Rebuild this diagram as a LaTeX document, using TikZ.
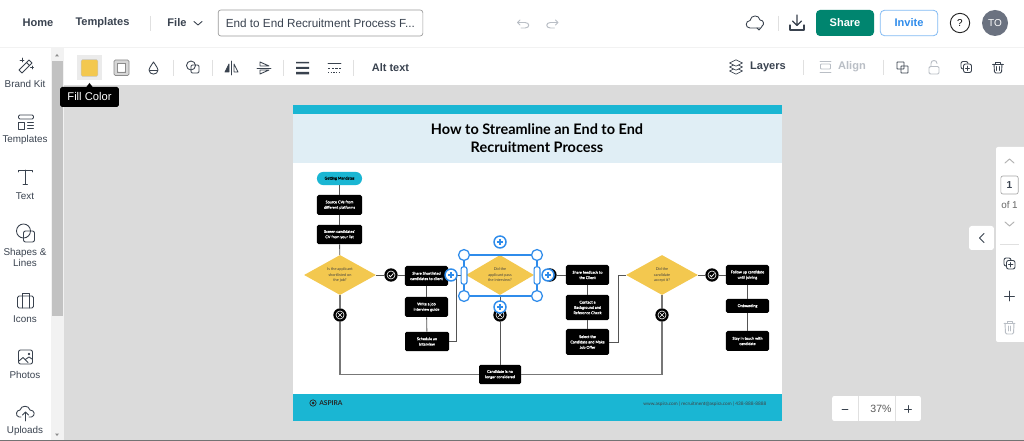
\documentclass[tikz,border=0pt]{standalone}
\usepackage{fontspec}
\setmainfont{Liberation Sans}
\newfontfamily\flowfont{Lato}
\newfontfamily\flowsemi[FakeBold=0.35]{Lato}
\usetikzlibrary{calc,arrows.meta,shapes.geometric}
\definecolor{cyanbar}{HTML}{1AB6D3}
\definecolor{headbg}{HTML}{E0EEF5}
\definecolor{canvasbg}{HTML}{DBDBDB}
\definecolor{sharegreen}{HTML}{00856F}
\definecolor{selblue}{HTML}{2F8CEB}
\definecolor{ambery}{HTML}{F3C84F}
\definecolor{uitext}{HTML}{3A4350}
\definecolor{uiicon}{HTML}{39424E}
\definecolor{uifaint}{HTML}{B9BEC5}
\definecolor{flowline}{HTML}{555555}
\definecolor{flowthick}{HTML}{777777}
\definecolor{avatargrey}{HTML}{6B7280}
\tikzset{
  x=0.75pt,y=-0.75pt,
  blackbox/.style={draw=none,fill=black,rounded corners=1.2pt,text=white,align=center,inner sep=0pt,font=\flowsemi\fontsize{2.85}{4}\selectfont},
  pill/.style={fill=cyanbar,rounded corners=4.8pt,text=black,align=center,inner sep=0pt,font=\flowsemi\fontsize{2.85}{4}\selectfont},
  ydiamond/.style={diamond,aspect=1.8,fill=ambery,inner sep=0pt,text=black!75,align=center,font=\flowfont\fontsize{2.85}{4.1}\selectfont},
  bluecirc/.style={circle,draw=selblue,line width=1.1pt,fill=white,inner sep=0pt,minimum size=9pt},
  bluehandle/.style={circle,draw=selblue,line width=0.95pt,fill=white,inner sep=0pt,minimum size=8.2pt},
  sidepill/.style={rounded corners=1.6pt,draw=selblue,line width=0.85pt,fill=white,inner sep=0pt,minimum width=4.4pt,minimum height=13pt},
  blackcirc/.style={circle,fill=black,inner sep=0pt,minimum size=10pt},
  flowl/.style={draw=flowline,line width=0.65pt},
  flowk/.style={draw=flowthick,line width=0.85pt},
  uilabel/.style={inner sep=0pt,text=uitext,font=\fontsize{7.3}{9}\selectfont},
  sidelabel/.style={inner sep=0pt,text=uitext,align=center,font=\fontsize{7.4}{8.4}\selectfont},
  boldlabel/.style={inner sep=0pt,text=uitext,font=\bfseries\fontsize{8.3}{10}\selectfont},
  ico/.style={draw=uiicon,line width=0.65pt,fill=none,line cap=round,line join=round},
  icofaint/.style={draw=uifaint,line width=0.7pt,fill=none,line cap=round,line join=round},
  divl/.style={draw=black!12,line width=0.5pt},
}
\begin{document}
\begin{tikzpicture}
\useasboundingbox (0,0) rectangle (1024,441);
% backgrounds
\fill[canvasbg] (0,0) rectangle (1024,441);
\fill[white] (0,0) rectangle (1024,47);
\fill[black!5] (0,47) rectangle (1024,48.5);
\fill[white] (64,48) rectangle (1024,85);
\fill[black!14] (64,85) rectangle (1024,86);
\fill[white] (0,48) rectangle (51,441);
\fill[black!5] (51,48) rectangle (64,441);
\fill[black!24] (52,61) rectangle (63,316);
\fill[black!45] (55,56.5) -- (59,56.5) -- (57,54) -- cycle;
\fill[black!45] (55,433.5) -- (59,433.5) -- (57,436) -- cycle;
\fill[black!55] (0,439.5) rectangle (1024,441);
% top bar text
\node[boldlabel] (home) at (38,23) {Home};
\node[boldlabel] (tmpl) at (102.5,23) {Templates};
\draw[divl] (150,16) -- (150,31);
\node[boldlabel] (file) at (177,23) {File};
\draw[ico] (194,21.5) -- (198,25) -- (202,21.5);
\node[draw=black!40,line width=0.5pt,rounded corners=2pt,minimum width=153.5pt,minimum height=19.5pt,inner sep=0pt,fill=white] (titlebox) at (320.5,23) {};
\node[uilabel,anchor=west,font=\fontsize{8.8}{9}\selectfont] (titletext) at (225.5,23.5) {End to End Recruitment Process F...};
% undo redo
\draw[icofaint] (520,20) -- (517.5,22.5) -- (520,25) (517.5,22.5) -- (525,22.5) .. controls (530,22.5) and (530,28) .. (525,28) -- (521,28);
\draw[icofaint] (555.5,20) -- (558,22.5) -- (555.5,25) (558,22.5) -- (550.5,22.5) .. controls (545.5,22.5) and (545.5,28) .. (550.5,28) -- (554.5,28);
% cloud
\draw[ico] (760,28) -- (750,28) .. controls (745,28) and (745,21) .. (750,20.5) .. controls (751,14.5) and (759,14.5) .. (760,20) .. controls (764,20) and (764.5,25) .. (762,26);
\draw[ico] (757,28) -- (759,30) -- (762,26.5);
\draw[divl] (778,16) -- (778,31);
% download
\draw[ico,line width=0.85pt] (797,15) -- (797,25) (792.5,21) -- (797,25.5) -- (801.5,21);
\draw[ico,line width=0.85pt] (790,25) -- (790,30) -- (804,30) -- (804,25);
% buttons
\node[fill=sharegreen,rounded corners=3pt,minimum width=43.5pt,minimum height=19.5pt,inner sep=0pt,text=white,font=\bfseries\fontsize{8.3}{10}\selectfont] (share) at (845,23) {Share};
\node[fill=white,draw=selblue!60,line width=0.6pt,rounded corners=3pt,minimum width=43pt,minimum height=19pt,inner sep=0pt,text=selblue,font=\bfseries\fontsize{8.3}{10}\selectfont] (invite) at (909,23) {Invite};
\node[circle,draw=black!85,line width=0.7pt,minimum size=14.5pt,inner sep=0pt,font=\fontsize{7.5}{9}\selectfont] (help) at (960,23) {?};
\node[circle,fill=avatargrey,minimum size=19.5pt,inner sep=0pt,text=white,font=\fontsize{7.5}{9}\selectfont] (avatar) at (995,23) {TO};
% toolbar icons
\node[fill=black!8,minimum size=19pt,inner sep=0pt] (fillbtn) at (89.5,67.5) {};
\node[fill=ambery,draw=black!22,line width=0.3pt,rounded corners=1pt,minimum size=12.5pt,inner sep=0pt] (fillswatch) at (89.5,68) {};
\fill[black!16,even odd rule,rounded corners=1pt] (114,60) rectangle (129,75.5) (117.5,63.5) rectangle (125.5,72);
\draw[draw=black!45,line width=0.55pt,rounded corners=1pt] (114,60) rectangle (129,75.5);
\draw[draw=black!45,line width=0.5pt] (117.5,63.5) rectangle (125.5,72);
\draw[ico] (153.5,62) .. controls (150,67) and (149,69) .. (149,70) .. controls (149,75.5) and (158,75.5) .. (158,70) .. controls (158,69) and (157,67) .. (153.5,62);
\draw[ico] (149.5,70) -- (157.5,70);
\draw[divl] (173,60) -- (173,76);
\draw[ico] (191,65.5) circle[radius=4.5];
\draw[ico,rounded corners=1pt] (191,65) rectangle (199,73);
\draw[divl] (212,60) -- (212,76);
\draw[ico] (231.5,61) -- (231.5,75);
\draw[ico,fill=uiicon] (229,64) -- (229,72) -- (225,72) -- cycle;
\draw[ico] (234,64) -- (234,72) -- (238,72) -- cycle;
\draw[ico] (257,68) -- (271,68);
\draw[ico] (260,66) -- (269,66) -- (260,62) -- cycle;
\draw[ico] (260,70) -- (269,70) -- (260,74) -- cycle;
\draw[divl] (283,60) -- (283,76);
\fill[uiicon] (296,62) rectangle (309,63.4) (296,66.8) rectangle (309,68.8) (296,72) rectangle (309,74.5);
\draw[ico,line width=0.4pt] (328,63) -- (341,63);
\draw[ico,line width=0.6pt,line cap=butt,dash pattern=on 1.8pt off 1pt] (328,68) -- (341,68);
\draw[ico,line width=0.6pt,line cap=butt,dash pattern=on 1pt off 1pt] (328,72.5) -- (341,72.5);
\draw[divl] (353.5,60) -- (353.5,76);
\node[boldlabel,font=\bfseries\fontsize{8.2}{10}\selectfont] (alt) at (390.5,68) {Alt text};
% right toolbar
\foreach \yy in {71,67,63}{\draw[draw=uiicon,line width=0.5pt,fill=white,line join=round] (729.5,\yy) -- (736,\yy-3.2) -- (742.5,\yy) -- (736,\yy+3.2) -- cycle;}
\node[boldlabel] (layers) at (768,67) {Layers};
\draw[divl] (803,60) -- (803,75);
\draw[icofaint] (820,61) -- (831,61) (820,72.5) -- (831,72.5);
\draw[icofaint,rounded corners=0.6pt] (820.5,64) rectangle (830.5,69);
\node[boldlabel,text=uifaint] (align) at (852,67) {Align};
\draw[divl] (883,60) -- (883,75);
\draw[ico,rounded corners=0.3pt] (897,62) rectangle (904,69);
\draw[ico,rounded corners=0.3pt] (901,66) rectangle (908,73);
\draw[icofaint,rounded corners=1pt] (929,66.5) rectangle (939,74);
\draw[icofaint] (931,66.5) -- (931,63.5) .. controls (931,59.5) and (937,59.5) .. (937,63.5);
\draw[ico,rounded corners=1.5pt] (961,61.5) rectangle (968,69);
\draw[ico,fill=white,rounded corners=1.5pt] (963.5,64) rectangle (971.5,72.5);
\draw[ico,line width=0.5pt] (967.5,66) -- (967.5,70.5) (965.5,68.3) -- (969.5,68.3);
\draw[ico] (992.5,64) -- (1003.5,64) (995.5,64) -- (995.5,62) -- (1000.5,62) -- (1000.5,64);
\draw[ico,rounded corners=1pt] (994,64) -- (994.5,73) -- (1001.5,73) -- (1002,64);
\draw[ico,line width=0.5pt] (996.8,66.5) -- (996.8,70.5) (999.2,66.5) -- (999.2,70.5);
% tooltip
\fill[black] (86,87.5) -- (89.5,83) -- (93,87.5) -- cycle;
\node[fill=black,rounded corners=1.2pt,text=white,minimum width=44pt,minimum height=15pt,inner sep=0pt,font=\fontsize{8.4}{9}\selectfont] (tooltip) at (89.5,97) {Fill Color};
% sidebar labels
\node[sidelabel] (s1) at (25,84) {Brand Kit};
\node[sidelabel] (s2) at (25,140) {Templates};
\node[sidelabel] (s3) at (25,196) {Text};
\node[sidelabel] (s4) at (25,257.5) {Shapes \&\\Lines};
\node[sidelabel] (s5) at (25,319) {Icons};
\node[sidelabel] (s6) at (25,375) {Photos};
\node[sidelabel] (s7) at (25,431) {Uploads};
% sidebar icons
\draw[ico] (19,70) -- (29,60) -- (32,63) -- (22,73) -- cycle (26.5,62.5) -- (29.5,65.5);
\draw[ico,line width=0.5pt] (22,58) -- (22,62) (20,60) -- (24,60) (32,66) -- (32,69) (30.5,67.5) -- (33.5,67.5);
\draw[ico,rounded corners=1pt] (18.5,115) rectangle (33.5,119);
\draw[ico] (18.5,122) rectangle (24.5,129);
\draw[ico] (27.5,122.5) -- (33.5,122.5) (27.5,125.5) -- (33.5,125.5) (27.5,128.5) -- (33.5,128.5);
\draw[ico] (18.5,172) -- (18.5,170) -- (32,170) -- (32,172) (25.2,170) -- (25.2,184) (23,184) -- (27.5,184);
\draw[ico] (23.5,231) circle[radius=7];
\draw[ico,rounded corners=1.5pt,fill=none] (23.5,231) rectangle (34.5,242);
\draw[ico,rounded corners=1.2pt] (17.5,296) rectangle (33.5,308);
\draw[ico] (22,296) -- (22,308) (29,296) -- (29,308) (22,296) -- (22,293) -- (29,293) -- (29,296);
\draw[ico,rounded corners=1.5pt] (18.5,350) rectangle (32.5,364);
\draw[ico] (19,361) -- (23,357.5) -- (28,362.5) (26,359) -- (29,357) -- (32,359);
\draw[ico] (29,354) circle[radius=0.8];
\draw[ico] (21,417) -- (19,417) .. controls (15,416) and (16,410) .. (20,410) .. controls (21,405) and (29,405) .. (30,410) .. controls (35,410) and (35.5,416) .. (31.5,417) -- (29,417);
\draw[ico] (25.5,421) -- (25.5,412) (22.5,415) -- (25.5,412) -- (28.5,415);
% right panel
\fill[white,rounded corners=1.5pt] (996,147) rectangle (1026,342);
\draw[icofaint,draw=black!30] (1005,163) -- (1009.5,159) -- (1014,163);
\node[draw=black!35,line width=0.5pt,rounded corners=1.5pt,minimum width=13pt,minimum height=13.5pt,inner sep=0pt,text=uitext,font=\bfseries\fontsize{7.6}{9}\selectfont] (pagenum) at (1009.5,185) {1};
\node[inner sep=0pt,text=black!60,font=\fontsize{7.4}{8}\selectfont] (ofone) at (1009.5,205) {of 1};
\draw[icofaint,draw=black!30] (1005,222) -- (1009.5,226) -- (1014,222);
\draw[divl] (1000,244.5) -- (1019,244.5);
\draw[ico,rounded corners=1.5pt] (1004,258) rectangle (1011,266);
\draw[ico,fill=white,rounded corners=1.5pt] (1006.5,260.5) rectangle (1015,269);
\draw[ico,line width=0.5pt] (1010.7,262.5) -- (1010.7,267) (1008.5,264.8) -- (1013,264.8);
\draw[ico] (1009.5,291) -- (1009.5,301) (1004.5,296) -- (1014.5,296);
\draw[icofaint] (1004,323) -- (1015,323) (1007,323) -- (1007,321) -- (1012,321) -- (1012,323);
\draw[icofaint,rounded corners=1pt] (1005,323) -- (1005.5,334) -- (1013.5,334) -- (1014,323);
\draw[icofaint,line width=0.5pt] (1008.3,326) -- (1008.3,331) (1010.7,326) -- (1010.7,331);
% collapse
\node[fill=white,rounded corners=2pt,minimum width=18.7pt,minimum height=18pt,inner sep=0pt] (collapse) at (981.5,238) {};
\draw[ico] (984,233.5) -- (979.5,238) -- (984,242.5);
% zoom widget
\node[fill=white,rounded corners=1.5pt,minimum width=66.5pt,minimum height=18.7pt,inner sep=0pt] (zoomw) at (876.5,408.5) {};
\node[inner sep=0pt,text=black!65,font=\fontsize{7.9}{10}\selectfont] (pct) at (881,409) {37\%};
\draw[divl] (858,396) -- (858,421) (895,396) -- (895,421);
\draw[ico,line width=0.7pt] (842,409) -- (848,409) (904.5,409) -- (911.5,409) (908,405.5) -- (908,412.5);
% page
\fill[white] (293,105) rectangle (782,421);
\fill[cyanbar] (293,105) rectangle (782,114);
\fill[headbg] (293,114) rectangle (782,163);
\fill[cyanbar] (293,394) rectangle (782,421);
\node[inner sep=0pt,align=center,text=black,font=\flowfont\bfseries\fontsize{10.85}{13.7}\selectfont] (title) at (537,138) {How to Streamline an End to End\\Recruitment Process};
% nodes
\node[pill,minimum width=33.8pt,minimum height=9.9pt] (start) at (339.5,178.5) {Getting Mandates};
\node[blackbox,minimum width=33.8pt,minimum height=15pt] (source) at (339.5,205) {Source CVs from\\different platforms};
\node[blackbox,minimum width=33.8pt,minimum height=14.5pt] (screen) at (339.5,234.5) {Screen candidates'\\CV from your list};
\node[ydiamond,minimum width=54pt,minimum height=30pt] (d1) at (340,275) {Is the applicant\\shortlisted on\\the job?};
\node[blackcirc] (ok1) at (391,275) {};
\node[blackbox,minimum width=32.3pt,minimum height=15pt] (shortlist) at (426.5,276) {Share Shortlisted\\candidates to client};
\node[blackbox,minimum width=32.3pt,minimum height=15pt] (write) at (426.5,307) {Write a job\\interview guide};
\node[blackbox,minimum width=33pt,minimum height=14.5pt] (schedule) at (427,341.5) {Schedule an\\Interview};
\node[ydiamond,minimum width=51pt,minimum height=30pt] (d2) at (500,275) {Did the\\applicant pass\\the interview?};
\node[blackcirc] (ok2) at (550,275) {};
\node[blackbox,minimum width=32.3pt,minimum height=15pt] (feedback) at (587.5,275) {Share feedback to\\the Client};
\node[blackbox,minimum width=32.3pt,minimum height=19pt] (contact) at (587.5,307.5) {Contact a\\Background and\\Reference Check};
\node[blackbox,minimum width=32.3pt,minimum height=19.5pt] (offer) at (587.5,342) {Select the\\Candidate and Make\\Job Offer};
\node[ydiamond,minimum width=54pt,minimum height=30pt] (d3) at (662,275) {Did the\\candidate\\accept it?};
\node[blackcirc] (ok3) at (712,275) {};
\node[blackbox,minimum width=32.3pt,minimum height=15pt] (follow) at (747.5,275) {Follow up candidate\\until joining};
\node[blackbox,minimum width=32.3pt,minimum height=10.5pt] (onboard) at (747.5,306) {Onboarding};
\node[blackbox,minimum width=32.3pt,minimum height=15pt] (stay) at (747.5,341) {Stay in touch with\\candidate};
\node[blackcirc] (no1) at (340,315) {};
\node[blackcirc] (no2) at (500,315) {};
\node[blackcirc] (no3) at (662,315) {};
\node[blackbox,minimum width=31.5pt,minimum height=14.5pt] (rejected) at (500,374.5) {Candidate is no\\longer considered};
% connectors
\draw[flowl] (start) -- (source);
\draw[flowl] (source) -- (screen);
\draw[flowl] (screen) -- (d1);
\draw[flowl] (d1) -- (ok1);
\draw[flowl] (ok1.east) -- (ok1.east -| shortlist.west);
\draw[flowl] (shortlist) -- (write);
\draw[flowl] (write) -- (schedule);
\draw[flowl] (d2) -- (no2);
\draw[flowl] (ok2) -- (feedback);
\draw[flowl] (feedback) -- (contact);
\draw[flowl] (contact) -- (offer);
\draw[flowl] (d3) -- (ok3);
\draw[flowl] (ok3) -- (follow);
\draw[flowl] (follow) -- (onboard);
\draw[flowl] (onboard) -- (stay);
\draw[flowl] (no2) -- (rejected);
\coordinate (sch1) at (456,341.5);
\coordinate (sch2) at (456,275);
\draw[flowl] (schedule.east) -- (sch1) -- (sch2) -- (d2.west);
\coordinate (off1) at (618,342);
\coordinate (off2) at (618,275);
\draw[flowl] (offer.east) -- (off1) -- (off2) -- (d3.west);
\draw[flowk] (d1) -- (no1);
\draw[flowk] (d3) -- (no3);
\draw[flowk] (no1.south) |- (rejected.west);
\draw[flowk] (no3.south) |- (rejected.east);
% black circle icons
\foreach \c in {ok1,ok2,ok3}{
  \draw[white,line width=0.45pt] (\c) circle[radius=4];
  \draw[white,line width=0.55pt] ($(\c)+(-2.2,0)$) -- ($(\c)+(-0.5,1.8)$) -- ($(\c)+(2.4,-1.6)$);
}
\foreach \c in {no1,no2,no3}{
  \draw[white,line width=0.45pt] (\c) circle[radius=4];
  \draw[white,line width=0.5pt] ($(\c)+(-1.8,-1.8)$) -- ($(\c)+(1.8,1.8)$) ($(\c)+(-1.8,1.8)$) -- ($(\c)+(1.8,-1.8)$);
}
% selection
\draw[selblue,line width=1pt] (464,255) rectangle (537,296);
\node[sidepill] (hl) at (464,275.5) {};
\node[sidepill] (hr) at (537,275.5) {};
\node[bluehandle] (h1) at (464,255) {};
\node[bluehandle] (h2) at (537,255) {};
\node[bluehandle] (h3) at (464,296) {};
\node[bluehandle] (h4) at (537,296) {};
\foreach \n/\x/\y in {p1/451/275,p2/548/275,p3/500/242,p4/500/307}{
  \node[bluecirc] (\n) at (\x,\y) {};
  \draw[selblue,line width=1pt] ($(\n)+(-3,0)$) -- ($(\n)+(3,0)$) ($(\n)+(0,-3)$) -- ($(\n)+(0,3)$);
}
% footer
\draw[black!85,line width=0.5pt] (313,403) circle[radius=3.2];
\fill[black!85] (313,403) circle[radius=1.5];
\node[anchor=west,inner sep=0pt,text=black!85,font=\flowfont\bfseries\fontsize{5}{6}\selectfont] (brand) at (319,403) {ASPIRA};
\node[anchor=east,inner sep=0pt,text=black!75,font=\flowfont\fontsize{3.55}{5}\selectfont] (contactline) at (766.5,404) {www.aspira.com | recruitment@aspira.com | 438-888-8888};
\end{tikzpicture}
\end{document}
